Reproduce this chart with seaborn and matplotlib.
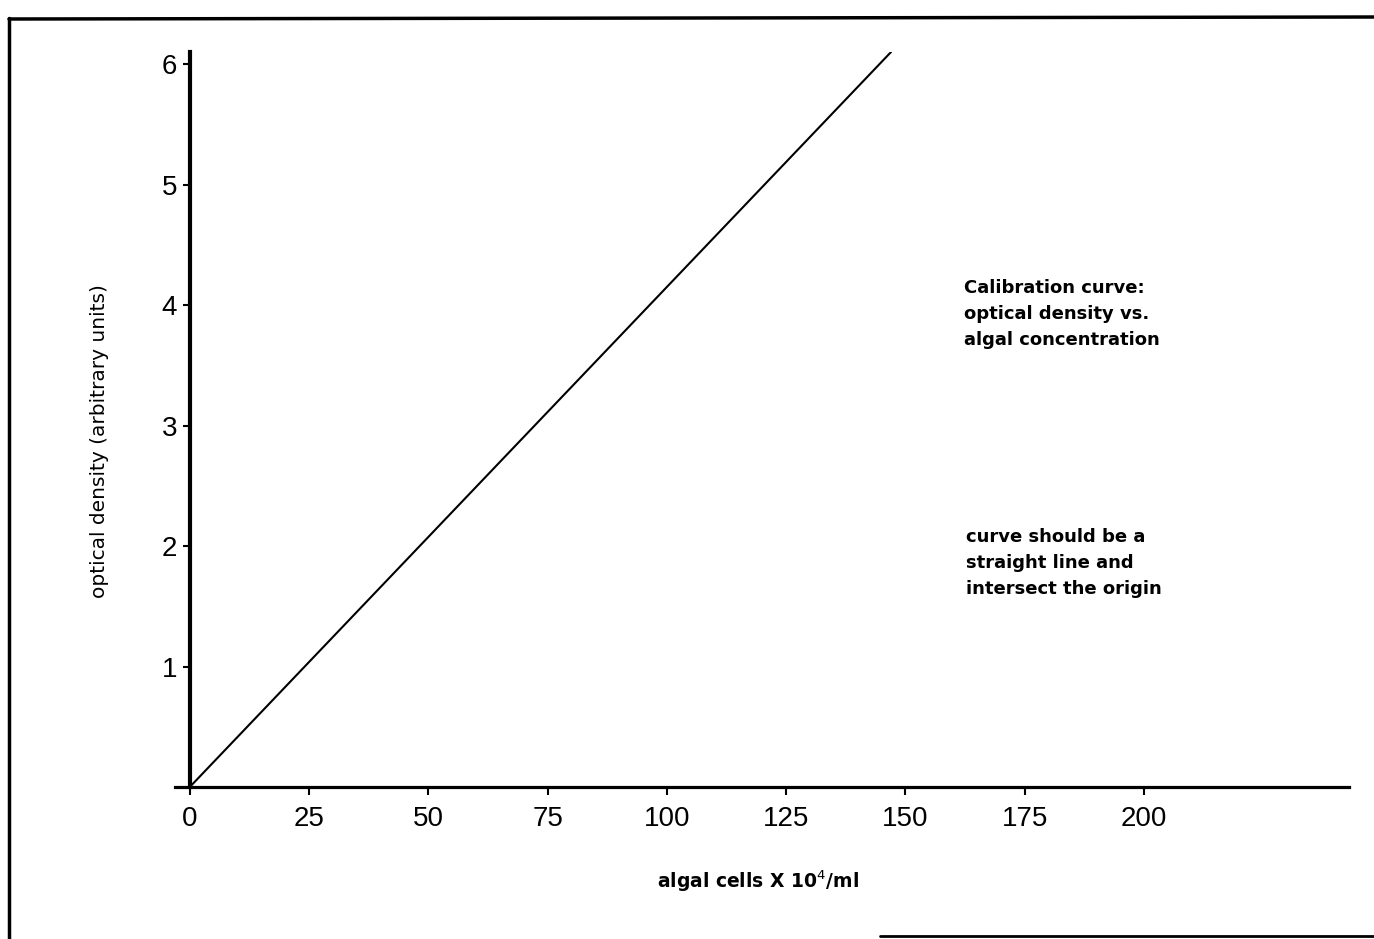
import matplotlib
matplotlib.use("Agg")
import matplotlib.pyplot as plt
import seaborn as sns
import pandas as pd
from matplotlib.lines import Line2D

# calibration line
cells = [0, 147]          # algal cells x 10^4/ml
density = [0, 6.1]        # optical density (arbitrary units)

x_ticks = [0, 25, 50, 75, 100, 125, 150, 175, 200]
y_ticks = [1, 2, 3, 4, 5, 6]

note_top = "Calibration curve:\noptical density vs.\nalgal concentration"
note_bottom = "curve should be a\nstraight line and\nintersect the origin"

df = pd.DataFrame({"cells": cells, "density": density})

sns.set_style("white")
plt.rcParams["font.family"] = ["Liberation Sans Narrow", "Liberation Sans", "DejaVu Sans"]
plt.rcParams["text.color"] = "black"
plt.rcParams["xtick.color"] = "black"
plt.rcParams["ytick.color"] = "black"
plt.rcParams["axes.edgecolor"] = "black"

fig = plt.figure(figsize=(13.74, 9.39), dpi=100)
ax = fig.add_axes([175 / 1374, 1 - 787 / 939, 1174 / 1374, 735 / 939])

sns.lineplot(data=df, x="cells", y="density", color="black", linewidth=1.5, ax=ax)

ax.set_xlim(-3.1, 243)
ax.set_ylim(0, 6.1)

# axes styling like the scanned figure
for side in ["top", "right"]:
    ax.spines[side].set_visible(False)
ax.spines["left"].set_position(("data", 0))
ax.spines["left"].set_linewidth(3)
ax.spines["bottom"].set_linewidth(2.3)

ax.set_xticks(x_ticks)
ax.set_xticklabels([str(v) for v in x_ticks], fontsize=20)
ax.set_yticks(y_ticks)
ax.set_yticklabels([str(v) for v in y_ticks], fontsize=20)
ax.tick_params(axis="x", direction="out", length=6, width=1.5, pad=8, bottom=True)
ax.tick_params(axis="y", direction="out", length=5, width=1.5, pad=4, left=True)

ax.set_xlabel("")
ax.set_ylabel("")

fig.text(758 / 1374, 1 - 881 / 939, "algal cells X 10$^4$/ml", ha="center", va="center",
         fontsize=13.5, fontfamily="DejaVu Sans", fontweight="bold")
fig.text(100 / 1374, 1 - 441 / 939, "optical density (arbitrary units)", rotation=90,
         ha="center", va="center", fontsize=14.5, fontfamily="DejaVu Sans")

fig.text(964 / 1374, 1 - 314 / 939, note_top, ha="left", va="center", fontsize=13,
         linespacing=1.55, fontfamily="DejaVu Sans", fontweight="bold")
fig.text(966 / 1374, 1 - 563 / 939, note_bottom, ha="left", va="center", fontsize=13,
         linespacing=1.55, fontfamily="DejaVu Sans", fontweight="bold")

# frame of the scanned page
fig.add_artist(Line2D([9 / 1374, 9 / 1374], [0, 1 - 18 / 939], color="black", linewidth=2.5))
fig.add_artist(Line2D([9 / 1374, 1], [1 - 19 / 939, 1 - 17 / 939], color="black", linewidth=2.5))
fig.add_artist(Line2D([880 / 1374, 1], [1 - 936 / 939, 1 - 936 / 939], color="black", linewidth=2))

fig.savefig("out.png", dpi=100)
